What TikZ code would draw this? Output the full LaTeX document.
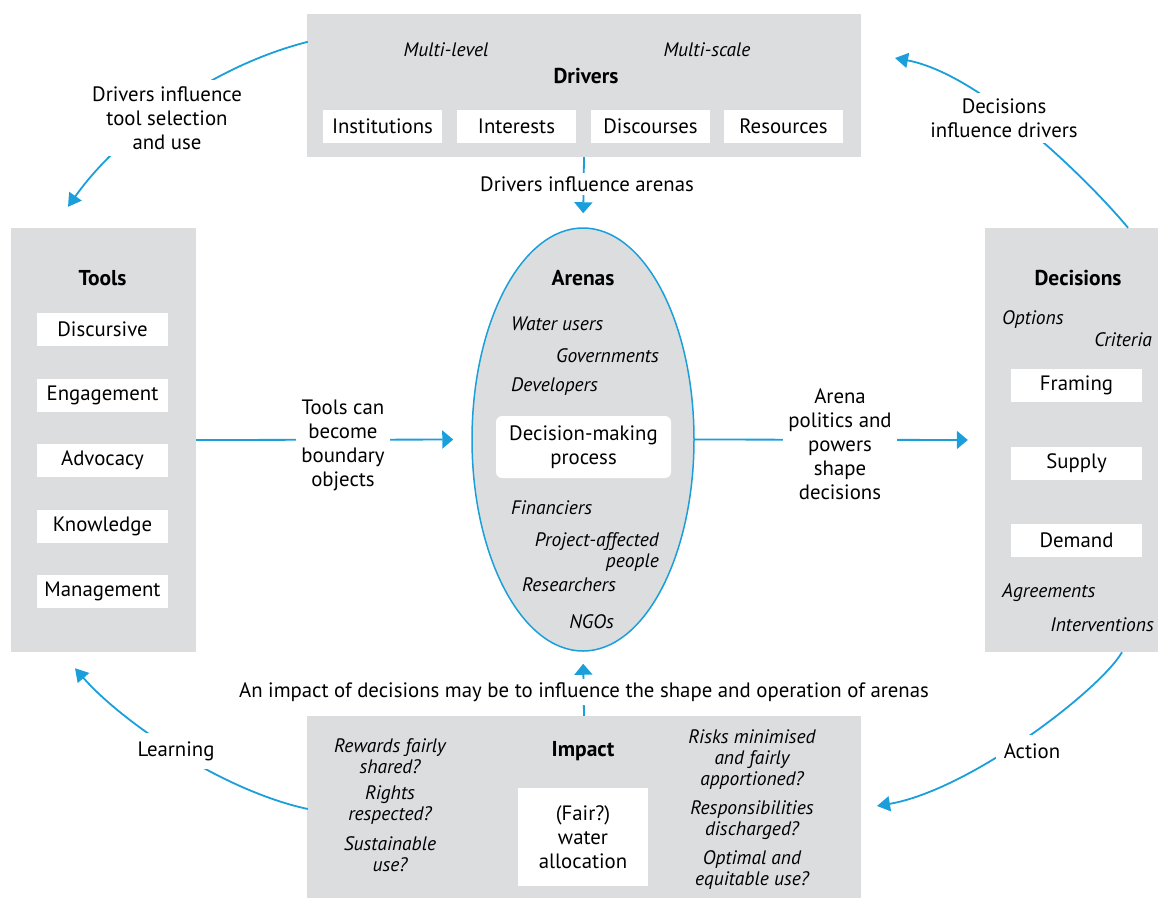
\documentclass[tikz,border=0pt]{standalone}
\usepackage{fontspec}
\setmainfont{PT Sans}
\usetikzlibrary{arrows.meta,shapes.geometric,calc}
\definecolor{boxgray}{HTML}{DCDDDF}
\definecolor{flowblue}{HTML}{1A9FDB}
\newcommand{\regsize}{\fontsize{20.8}{24}\selectfont}
\tikzset{
  panel/.style={fill=boxgray,draw=none,inner sep=0pt,rectangle},
  itembox/.style={fill=white,draw=none,inner sep=0pt,rectangle,font=\regsize},
  heading/.style={font=\fontsize{21.5}{24}\selectfont\bfseries,inner sep=0pt},
  masklabel/.style={font=\regsize,fill=white,inner sep=5pt,align=center},
  actor/.style={font=\fontsize{19.5}{21}\selectfont\itshape,inner sep=0pt},
  query/.style={font=\fontsize{19.5}{21}\selectfont\itshape,inner sep=0pt,align=center},
  flowline/.style={draw=flowblue,line width=1.8pt},
  curvearrow/.style={flowline,-{Triangle[width=15pt,length=13pt]}},
  straightarrow/.style={flowline,-{Triangle[width=18pt,length=11pt]}}
}
\begin{document}
\begin{tikzpicture}[x=1pt,y=-1pt]
\useasboundingbox (0,0) rectangle (1158,898);

% panels
\node[panel,minimum width=554pt,minimum height=143pt] (drivers) at (584,85.5) {};
\node[panel,minimum width=185pt,minimum height=424pt] (tools) at (103.5,440) {};
\node[panel,minimum width=173pt,minimum height=424pt] (decisions) at (1071.5,440) {};
\node[panel,minimum width=554pt,minimum height=182pt] (impact) at (584,807) {};
\node[ellipse,fill=boxgray,draw=flowblue,line width=1.5pt,minimum width=222pt,minimum height=423pt,inner sep=0pt] (arenas) at (583,439.5) {};

% Drivers content
\node[actor] (mlevel) at (446,50) {Multi-level};
\node[actor] (mscale) at (707,50) {Multi-scale};
\node[heading] (drvtitle) at (586,76) {Drivers};
\node[itembox,minimum width=119pt,minimum height=33pt] (inst) at (382.5,126.5) {Institutions};
\node[itembox,minimum width=119pt,minimum height=33pt] (intr) at (516.5,126.5) {Interests};
\node[itembox,minimum width=119pt,minimum height=33pt] (disc) at (650.5,126.5) {Discourses};
\node[itembox,minimum width=119pt,minimum height=33pt] (reso) at (783.5,126.5) {Resources};

% Tools content
\node[heading] (tooltitle) at (102.5,278) {Tools};
\node[itembox,minimum width=131pt,minimum height=33pt] (t1) at (102.5,329.5) {Discursive};
\node[itembox,minimum width=131pt,minimum height=33pt] (t2) at (102.5,395.5) {Engagement};
\node[itembox,minimum width=131pt,minimum height=33pt] (t3) at (102.5,460.5) {Advocacy};
\node[itembox,minimum width=131pt,minimum height=33pt] (t4) at (102.5,526.5) {Knowledge};
\node[itembox,minimum width=131pt,minimum height=33pt] (t5) at (102.5,591.5) {Management};

% Arenas content
\node[heading] (arenatitle) at (583,278) {Arenas};
\node[actor,anchor=west] (a1) at (511,324) {Water users};
\node[actor,anchor=east] (a2) at (659,356) {Governments};
\node[actor,anchor=west] (a3) at (511,387) {Developers};
\node[fill=white,rounded corners=6pt,minimum width=175pt,minimum height=62pt,inner sep=0pt,align=center,font=\regsize] (dmp) at (583.5,447) {Decision-making\\process};
\node[actor,anchor=west] (a4) at (511,508) {Financiers};
\node[actor,anchor=east,align=right] (a5) at (659,551.5) {Project-affected\\people};
\node[actor,anchor=west] (a6) at (522,585) {Researchers};
\node[actor,anchor=east] (a7) at (614,622) {NGOs};

% Decisions content
\node[heading] (dectitle) at (1078,278) {Decisions};
\node[actor,anchor=west] (d1) at (1002,319) {Options};
\node[actor,anchor=east] (d2) at (1152,340) {Criteria};
\node[itembox,minimum width=131pt,minimum height=33pt] (fram) at (1076.5,385.5) {Framing};
\node[itembox,minimum width=131pt,minimum height=33pt] (supp) at (1076.5,463) {Supply};
\node[itembox,minimum width=131pt,minimum height=33pt] (dema) at (1076.5,540.5) {Demand};
\node[actor,anchor=west] (d3) at (1002,593) {Agreements};
\node[actor,anchor=east] (d4) at (1154,625) {Interventions};

% Impact content
\node[heading] (imptitle) at (583,751) {Impact};
\node[fill=white,minimum width=130pt,minimum height=98pt,inner sep=0pt,align=center,font=\regsize] (alloc) at (583,837) {(Fair?)\\water\\allocation};
\node[query] (q1) at (390,756.5) {Rewards fairly\\shared?};
\node[query] (q2) at (390,805.5) {Rights\\respected?};
\node[query] (q3) at (390,854.5) {Sustainable\\use?};
\node[query] (q4) at (752,760) {Risks minimised\\and fairly\\apportioned?};
\node[query] (q5) at (752,820.5) {Responsibilities\\discharged?};
\node[query] (q6) at (752,869.5) {Optimal and\\equitable use?};

% straight connectors
\draw[straightarrow,shorten >=14pt] (drivers.south) -- (arenas.north);
\node[masklabel,inner sep=3pt] (lbl1) at (587,184) {Drivers influence arenas};
\draw[straightarrow,shorten >=12pt] (impact.north) -- (arenas.south);
\node[masklabel,inner sep=3pt] (lbl2) at (584,692) {An impact of decisions may be to influence the shape and operation of arenas};
\draw[straightarrow,shorten >=18pt] (tools.east) -- (arenas.west);
\node[masklabel] (lbl3) at (343,445) {Tools can\\become\\boundary\\objects};
\draw[straightarrow,shorten >=17pt] (arenas.east) -- (decisions.west);
\node[masklabel] (lbl4) at (840,444.5) {Arena\\politics and\\powers\\shape\\decisions};

% curved connectors
\coordinate (c1s) at ($(drivers.north west)+(1,28)$);
\coordinate (c1e) at ($(tools.north)+(-35.5,-21)$);
\draw[curvearrow] (c1s) .. controls (205,68) and (115,140) .. (c1e);
\node[masklabel,inner sep=6pt] (lbl5) at (167,118) {Drivers influence\\tool selection\\and use};

\coordinate (c2s) at ($(decisions.north)+(56.5,0)$);
\coordinate (c2e) at (895,58);
\draw[curvearrow] (c2s) .. controls (1097,190) and (985,75) .. (c2e);
\node[masklabel,inner sep=6pt] (lbl6) at (1004,118) {Decisions\\influence drivers};

\coordinate (c3s) at ($(decisions.south)+(50.5,0)$);
\coordinate (c3e) at (877,806);
\draw[curvearrow] (c3s) .. controls (1100,690) and (970,790) .. (c3e);
\node[masklabel,inner sep=8pt] (lbl7) at (1032,751) {Action};

\coordinate (c4s) at ($(impact.west)+(1,2)$);
\coordinate (c4e) at ($(tools.south)+(-28.5,16)$);
\draw[curvearrow] (c4s) .. controls (220,790) and (120,720) .. (c4e);
\node[masklabel,inner sep=8pt] (lbl8) at (176,751) {Learning};
\end{tikzpicture}
\end{document}
